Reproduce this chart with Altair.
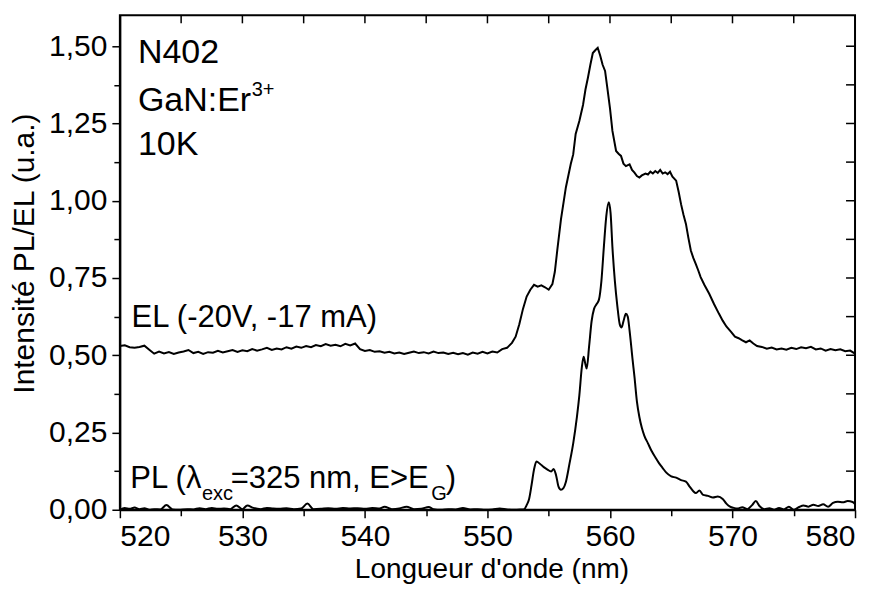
import altair as alt
import pandas as pd

# ---------------- data ----------------
el_nm = [520.0, 520.4, 520.8, 521.2, 521.6, 522.0, 522.4, 522.8, 523.2, 523.6,
         524.0, 524.4, 524.8, 525.2, 525.6, 526.0, 526.4, 526.8, 527.2, 527.6,
         528.0, 528.4, 528.8, 529.2, 529.6, 530.0, 530.4, 530.8, 531.2, 531.6,
         532.0, 532.4, 532.8, 533.2, 533.6, 534.0, 534.4, 534.8, 535.2, 535.6,
         536.0, 536.4, 536.8, 537.2, 537.6, 538.0, 538.4, 538.8, 539.2, 539.6,
         540.0, 540.4, 540.8, 541.2, 541.6, 542.0, 542.4, 542.8, 543.2, 543.6,
         544.0, 544.4, 544.8, 545.2, 545.6, 546.0, 546.4, 546.8, 547.2, 547.6,
         548.0, 548.4, 548.8, 549.2, 549.6, 550.0, 550.4, 550.8, 551.2, 551.6,
         552.0, 552.3, 552.6, 552.9, 553.2, 553.5, 553.8, 554.1, 554.4, 554.7,
         555.0, 555.3, 555.5, 555.7, 556.0, 556.4, 556.8, 557.0, 557.2, 557.5,
         557.8, 558.0, 558.2, 558.4, 558.6, 558.8, 559.0, 559.2, 559.4, 559.6,
         559.8, 560.0, 560.2, 560.5, 560.7, 560.9, 561.1, 561.3, 561.6, 561.8,
         562.0, 562.2, 562.4, 562.6, 562.9, 563.1, 563.3, 563.5, 563.7, 563.9,
         564.1, 564.3, 564.5, 564.7, 564.9, 565.1, 565.4, 565.6, 565.8, 566.0,
         566.2, 566.4, 566.6, 566.8, 567.0, 567.2, 567.4, 567.7, 568.1, 568.5,
         568.9, 569.2, 569.5, 569.9, 570.2, 570.5, 570.8, 571.1, 571.4, 571.7,
         572.0, 572.4, 572.8, 573.2, 573.6, 574.0, 574.4, 574.8, 575.2, 575.6,
         576.0, 576.4, 576.8, 577.2, 577.6, 578.0, 578.4, 578.8, 579.2, 579.6,
         580.0]
el_val = [0.530, 0.532, 0.526, 0.524, 0.527, 0.531, 0.518, 0.505, 0.512, 0.506,
          0.510, 0.504, 0.509, 0.512, 0.517, 0.507, 0.511, 0.504, 0.510, 0.508,
          0.514, 0.509, 0.513, 0.517, 0.511, 0.516, 0.513, 0.520, 0.515, 0.519,
          0.524, 0.517, 0.522, 0.519, 0.526, 0.521, 0.528, 0.524, 0.530, 0.526,
          0.533, 0.529, 0.536, 0.531, 0.534, 0.529, 0.537, 0.532, 0.538, 0.520,
          0.514, 0.517, 0.511, 0.513, 0.508, 0.511, 0.506, 0.509, 0.504, 0.508,
          0.512, 0.507, 0.510, 0.506, 0.512, 0.507, 0.509, 0.504, 0.508, 0.503,
          0.507, 0.502, 0.509, 0.505, 0.511, 0.506, 0.512, 0.509, 0.520, 0.524,
          0.540, 0.560, 0.600, 0.650, 0.690, 0.712, 0.728, 0.722, 0.726, 0.720,
          0.712, 0.730, 0.770, 0.840, 0.940, 1.043, 1.119, 1.150, 1.216, 1.258,
          1.310, 1.360, 1.398, 1.440, 1.478, 1.487, 1.495, 1.470, 1.440, 1.420,
          1.360, 1.300, 1.226, 1.161, 1.152, 1.145, 1.120, 1.112, 1.118, 1.100,
          1.091, 1.080, 1.075, 1.082, 1.088, 1.085, 1.094, 1.088, 1.096, 1.090,
          1.100, 1.088, 1.092, 1.086, 1.094, 1.078, 1.065, 1.030, 0.989, 0.955,
          0.925, 0.880, 0.839, 0.815, 0.796, 0.775, 0.753, 0.728, 0.699, 0.665,
          0.634, 0.612, 0.593, 0.575, 0.560, 0.555, 0.548, 0.542, 0.548, 0.538,
          0.530, 0.527, 0.521, 0.525, 0.519, 0.522, 0.518, 0.524, 0.520, 0.526,
          0.523, 0.527, 0.519, 0.522, 0.515, 0.520, 0.516, 0.519, 0.513, 0.515,
          0.505]

pl_nm = [520.0, 520.4, 520.8, 521.2, 521.6, 522.0, 522.4, 522.8, 523.3, 523.8,
         524.3, 524.8, 525.5, 526.0, 526.5, 527.0, 527.5, 528.0, 528.5, 529.0,
         529.5, 530.0, 530.4, 530.9, 531.5, 532.0, 532.5, 533.0, 533.6, 534.2,
         534.8, 535.3, 535.8, 536.4, 537.0, 537.6, 538.2, 538.8, 539.4, 540.0,
         540.6, 541.2, 541.6, 542.2, 542.8, 543.4, 544.0, 544.6, 545.2, 545.6,
         546.2, 546.8, 547.4, 548.0, 548.6, 549.2, 549.8, 550.4, 551.0, 551.6,
         552.2, 552.7, 553.0, 553.2, 553.4, 553.6, 553.8, 554.0, 554.3, 554.6,
         554.9, 555.2, 555.4, 555.6, 555.8, 556.0, 556.2, 556.4, 556.7, 557.0,
         557.3, 557.5, 557.7, 557.85, 558.0, 558.1, 558.3, 558.5, 558.7, 558.9,
         559.1, 559.3, 559.5, 559.7, 559.9, 560.05, 560.2, 560.4, 560.6, 560.8,
         560.95, 561.1, 561.3, 561.45, 561.6, 561.85, 562.0, 562.2, 562.4, 562.6,
         562.8, 563.1, 563.4, 563.7, 564.0, 564.3, 564.6, 565.0, 565.4, 565.8,
         566.2, 566.5, 566.8, 567.0, 567.3, 567.6, 568.0, 568.4, 568.8, 569.2,
         569.5, 569.8, 570.1, 570.4, 570.8, 571.2, 571.6, 571.9, 572.2, 572.6,
         573.0, 573.4, 573.8, 574.2, 574.6, 575.0, 575.4, 575.8, 576.2, 576.6,
         577.0, 577.4, 577.8, 578.2, 578.6, 579.0, 579.4, 579.8, 580.0]
pl_val = [0.000, 0.006, 0.003, 0.007, 0.002, 0.005, 0.000, 0.002, 0.001, 0.015,
          0.001, 0.000, 0.002, 0.001, 0.005, 0.002, 0.006, 0.003, 0.004, 0.002,
          0.014, 0.002, 0.014, 0.006, 0.002, 0.006, 0.004, 0.003, 0.005, 0.002,
          0.004, 0.020, 0.002, 0.003, 0.005, 0.003, 0.006, 0.004, 0.005, 0.003,
          0.006, 0.004, 0.010, 0.002, 0.004, 0.010, 0.002, 0.003, 0.009, 0.002,
          0.000, 0.002, 0.001, 0.006, 0.001, 0.002, 0.000, 0.001, 0.004, 0.001,
          0.000, 0.001, 0.002, 0.015, 0.035, 0.080, 0.130, 0.156, 0.148, 0.138,
          0.130, 0.124, 0.132, 0.112, 0.075, 0.065, 0.070, 0.090, 0.150, 0.215,
          0.300, 0.370, 0.460, 0.495, 0.470, 0.457, 0.530, 0.610, 0.650, 0.665,
          0.680, 0.740, 0.850, 0.950, 0.995, 0.960, 0.850, 0.740, 0.660, 0.600,
          0.590, 0.610, 0.634, 0.625, 0.580, 0.484, 0.430, 0.350, 0.300, 0.265,
          0.240, 0.215, 0.190, 0.170, 0.151, 0.135, 0.120, 0.108, 0.104, 0.096,
          0.091, 0.075, 0.060, 0.054, 0.062, 0.048, 0.045, 0.040, 0.043, 0.035,
          0.020, 0.010, 0.006, 0.004, 0.008, 0.002, 0.015, 0.028, 0.012, 0.002,
          0.005, 0.000, 0.006, 0.001, 0.010, 0.000, 0.008, 0.014, 0.010, 0.016,
          0.012, 0.018, 0.010, 0.022, 0.026, 0.024, 0.028, 0.025, 0.018]

x_ticks = [520, 525, 530, 535, 540, 545, 550, 555, 560, 565, 570, 575, 580]
y_ticks = [0.0, 0.125, 0.25, 0.375, 0.5, 0.625, 0.75, 0.875, 1.0, 1.125, 1.25, 1.375, 1.5]

# annotations: text, x (nm), y (intensity baseline)
big_text = ["N402", "GaN:Er", "10K"]
big_x = [521.47, 521.47, 521.47]
big_y = [1.446, 1.290, 1.148]

mid_text = ["EL (-20V, -17 mA)", "PL (\u03bb", "=325 nm, E>E", ")"]
mid_x = [520.95, 520.85, 529.05, 546.6]
mid_y = [0.591, 0.071, 0.071, 0.071]

small_text = ["3+", "exc", "G"]
small_x = [530.76, 526.7, 545.41]
small_y = [1.339, 0.030, 0.032]

# ---------------- chart ----------------
FONT = "Liberation Sans"
W, H = 736, 495

el_df = pd.DataFrame({"nm": el_nm, "val": el_val})
pl_df = pd.DataFrame({"nm": pl_nm, "val": pl_val})

xscale = alt.Scale(domain=[520, 580], nice=False, zero=False)
yscale = alt.Scale(domain=[0, 1.6], nice=False, zero=False)

x_axis = alt.Axis(
    values=x_ticks, orient="bottom", grid=False,
    labelExpr="datum.value % 10 == 0 ? format(datum.value, 'd') : ''",
    labelFont=FONT, labelFontSize=30, labelColor="black", labelPadding=4,
    tickColor="black", tickWidth=1.5,
    tickSize={"condition": {"test": "datum.value % 10 == 0", "value": 8}, "value": 6},
    domainColor="black", domainWidth=2,
    title="Longueur d'onde (nm)", titleFont=FONT, titleFontSize=28,
    titleFontWeight="normal", titleColor="black",
    titleX=372, titleY=68, titleBaseline="alphabetic", titleAlign="center",
)
y_axis = alt.Axis(
    values=y_ticks, orient="left", grid=False,
    labelExpr="abs(datum.value*4 - round(datum.value*4)) < 0.001 ? replace(format(datum.value, '.2f'), '.', ',') : ''",
    labelFont=FONT, labelFontSize=30, labelColor="black", labelPadding=5,
    tickColor="black", tickWidth=1.5,
    tickSize={"condition": {"test": "abs(datum.value*4 - round(datum.value*4)) < 0.001", "value": 8}, "value": 6},
    domainColor="black", domainWidth=2,
    title="Intensit\u00e9 PL/EL (u.a.)", titleFont=FONT, titleFontSize=30,
    titleFontWeight="normal", titleColor="black",
    titleX=-95, titleY=238, titleBaseline="middle", titleAlign="center", titleAngle=-90,
)


def X(field):
    return alt.X(field, type="quantitative", scale=xscale, axis=x_axis)


def Y(field):
    return alt.Y(field, type="quantitative", scale=yscale, axis=y_axis)


el_line = alt.Chart(el_df).mark_line(color="black", strokeWidth=2, clip=True).encode(
    x=X("nm"), y=Y("val"), order="nm:Q")
pl_line = alt.Chart(pl_df).mark_line(color="black", strokeWidth=2, clip=True,
                                     interpolate="monotone").encode(
    x=X("nm"), y=Y("val"), order="nm:Q")

top_df = pd.DataFrame({"t": x_ticks[1:-1]})
top_ticks = alt.Chart(top_df).mark_rule(color="black", strokeWidth=1.5).encode(
    x=X("t"), y=alt.value(0), y2=alt.value(8))
right_df = pd.DataFrame({"t": y_ticks[1:]})
right_ticks = alt.Chart(right_df).mark_rule(color="black", strokeWidth=1.5).encode(
    y=Y("t"), x=alt.value(W - 9), x2=alt.value(W))


def text_layer(texts, xs, ys, size):
    df = pd.DataFrame({"text": texts, "x": xs, "y": ys})
    return alt.Chart(df).mark_text(
        align="left", baseline="alphabetic", font=FONT, fontSize=size, color="black"
    ).encode(x=X("x"), y=Y("y"), text="text:N")


big = text_layer(big_text, big_x, big_y, 34)
mid = text_layer(mid_text, mid_x, mid_y, 31)
small = text_layer(small_text, small_x, small_y, 20)

chart = alt.layer(el_line, pl_line, top_ticks, right_ticks, big, mid, small).properties(
    width=W, height=H,
    autosize=alt.AutoSizeParams(type="none"),
    padding={"left": 112, "top": 7, "right": 20, "bottom": 75},
    background="white",
).configure_view(stroke="black", strokeWidth=2)

chart.save("out.html", embed_options={"renderer": "svg", "actions": False})
